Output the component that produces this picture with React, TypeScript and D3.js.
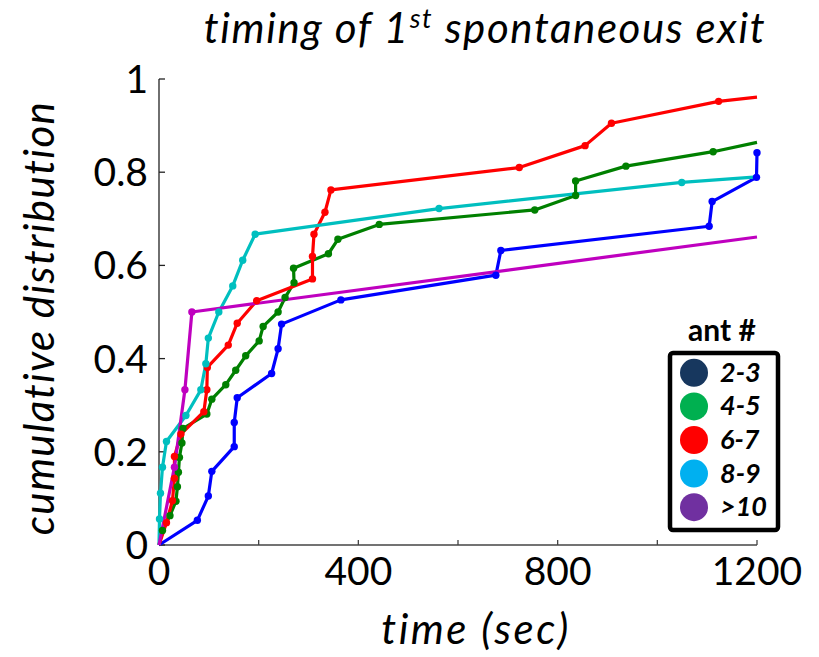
import React from "react";
import * as d3 from "d3";

// ---- data (time in sec, cumulative fraction) ----
const blueT = [0, 77, 99, 106, 151, 151, 157, 226, 239, 246, 365, 676, 686, 1104, 1110, 1199, 1200];
const blueV = [0, 0.053, 0.105, 0.158, 0.211, 0.263, 0.316, 0.368, 0.421, 0.474, 0.526, 0.579, 0.632, 0.684, 0.737, 0.789, 0.842];

const greenT = [0, 7, 22, 34, 37, 39, 41, 46, 48, 96, 106, 134, 154, 174, 201, 209, 239, 253, 271, 270, 340, 359, 442, 754, 836, 836, 937, 1112];
const greenV = [0, 0.031, 0.063, 0.094, 0.125, 0.156, 0.188, 0.219, 0.25, 0.281, 0.313, 0.344, 0.375, 0.406, 0.438, 0.469, 0.5, 0.531, 0.563, 0.594, 0.625, 0.656, 0.688, 0.719, 0.75, 0.781, 0.813, 0.844];
const greenEnd = [1200, 0.864];

const redT = [0, 15, 27, 31, 31, 44, 90, 96, 97, 139, 157, 196, 308, 308, 311, 333, 345, 723, 855, 908, 1123];
const redV = [0, 0.048, 0.095, 0.143, 0.19, 0.238, 0.286, 0.333, 0.381, 0.429, 0.476, 0.524, 0.571, 0.619, 0.667, 0.714, 0.762, 0.81, 0.857, 0.905, 0.952];
const redEnd = [1200, 0.961];

const cyanT = [0, 1, 3, 7, 15, 54, 84, 94, 99, 120, 148, 168, 193, 562, 1049];
const cyanV = [0, 0.056, 0.111, 0.167, 0.222, 0.278, 0.333, 0.389, 0.444, 0.5, 0.556, 0.611, 0.667, 0.722, 0.778];
const cyanEnd = [1200, 0.79];

const magentaT = [0, 31, 52, 66];
const magentaV = [0, 0.167, 0.333, 0.5];
const magentaEnd = [1200, 0.661];

const xTicks = [0, 200, 400, 600, 800, 1000, 1200];
const xTickLabels = [0, 400, 800, 1200];
const yTicks = [0, 0.2, 0.4, 0.6, 0.8, 1];
const yTickLabels = ["0", "0.2", "0.4", "0.6", "0.8", "1"];

const legendLabels = ["2-3", "4-5", "6-7", "8-9", ">10"];
const legendColors = ["#17375E", "#00B050", "#FF0000", "#00B0F0", "#7030A0"];

type Series = { t: number[]; v: number[]; end: number[] | null; color: string };
const series: Series[] = [
  { t: blueT, v: blueV, end: null, color: "#0000FF" },
  { t: greenT, v: greenV, end: greenEnd, color: "#008000" },
  { t: redT, v: redV, end: redEnd, color: "#FF0000" },
  { t: cyanT, v: cyanV, end: cyanEnd, color: "#00BFBF" },
  { t: magentaT, v: magentaV, end: magentaEnd, color: "#BF00BF" },
];

const FONT = "Lato, 'Open Sans', sans-serif";

export default function App() {
  const W = 819;
  const H = 657;
  const x = d3.scaleLinear().domain([0, 1200]).range([159, 757]);
  const y = d3.scaleLinear().domain([0, 1]).range([545, 79]);
  const line = d3
    .line<[number, number]>()
    .x((d) => x(d[0]))
    .y((d) => y(d[1]));

  const legendY = d3.scaleBand<string>().domain(legendLabels).range([356, 524]);

  return (
    <svg
      width={W}
      height={H}
      style={{ position: "absolute", left: 0, top: 0, background: "#fff" }}
      fontFamily={FONT}
    >
      <rect width={W} height={H} fill="#fff" />
      {/* title */}
      <text x={485} y={43} textAnchor="middle" fontSize={42} fontStyle="italic" letterSpacing={1.6} fill="#000">
        timing of 1
        <tspan fontSize={27} dy={-15}>st</tspan>
        <tspan dy={15}> spontaneous exit</tspan>
      </text>

      {/* axes */}
      <line x1={x(0)} x2={x(1200)} y1={y(0)} y2={y(0)} stroke="#444" strokeWidth={1.3} />
      <line x1={x(0)} x2={x(0)} y1={y(0)} y2={y(1)} stroke="#222" strokeWidth={1.3} />
      {xTicks.map((t) => (
        <line key={"xt" + t} x1={x(t)} x2={x(t)} y1={y(0)} y2={y(0) - 5} stroke="#444" strokeWidth={1.3} />
      ))}
      {yTicks.map((v) => (
        <line key={"yt" + v} x1={x(0)} x2={x(0) + 6} y1={y(v)} y2={y(v)} stroke="#222" strokeWidth={1.3} />
      ))}
      {xTickLabels.map((t) => (
        <text key={"xl" + t} x={x(t)} y={585} textAnchor="middle" fontSize={39} fill="#000">
          {t}
        </text>
      ))}
      {yTicks.map((v, i) => (
        <text
          key={"yl" + v}
          x={148}
          y={y(v) + 14}
          textAnchor="end"
          fontSize={39}
          fill="#000"
        >
          {yTickLabels[i]}
        </text>
      ))}

      {/* axis labels */}
      <text x={476} y={644} textAnchor="middle" fontSize={42} fontStyle="italic" letterSpacing={2.5} fill="#000">
        time (sec)
      </text>
      <text
        transform="translate(54,318) rotate(-90)"
        textAnchor="middle"
        fontSize={42}
        fontStyle="italic"
        letterSpacing={1.4}
        fill="#000"
      >
        cumulative distribution
      </text>

      {/* lines */}
      {series.map((s, i) => {
        const pts: [number, number][] = s.t.map((t, j) => [t, s.v[j]]);
        if (s.end) pts.push([s.end[0], s.end[1]]);
        return (
          <path key={"l" + i} d={line(pts) || ""} fill="none" stroke={s.color} strokeWidth={3.2} strokeLinejoin="round" />
        );
      })}
      {/* markers */}
      {series.map((s, i) => (
        <g key={"m" + i} fill={s.color}>
          {s.t.map((t, j) =>
            j === 0 ? null : <circle key={j} cx={x(t)} cy={y(s.v[j])} r={3.7} />
          )}
        </g>
      ))}

      {/* legend */}
      <text x={722} y={341} textAnchor="middle" fontSize={30} fontWeight="bold" fill="#000">
        ant #
      </text>
      <rect x={670} y={353} width={108} height={177} rx={3} fill="#fff" stroke="#000" strokeWidth={4.5} />
      {legendLabels.map((lab, i) => {
        const cy = (legendY(lab) || 0) + legendY.bandwidth() / 2;
        return (
          <g key={"lg" + i}>
            <circle cx={694} cy={cy} r={14} fill={legendColors[i]} />
            <text x={720} y={cy + 9} fontSize={27} fontWeight="bold" fontStyle="italic" fill="#000">
              {lab}
            </text>
          </g>
        );
      })}
    </svg>
  );
}
